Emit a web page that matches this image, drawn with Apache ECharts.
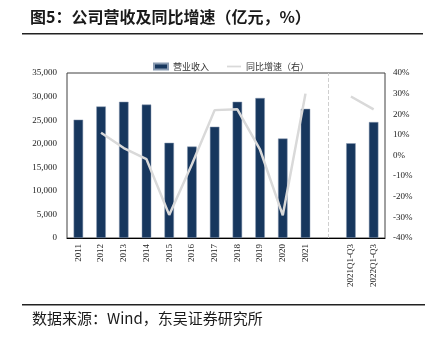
<!DOCTYPE html>
<html><head><meta charset="utf-8">
<script src="https://cdn.jsdelivr.net/npm/echarts@6/dist/echarts.min.js"></script>
<style>html,body{margin:0;padding:0;background:#fff}#c{width:430px;height:343px}</style>
</head><body><div id="c"></div>
<script>
var categories = ['2011','2012','2013','2014','2015','2016','2017','2018','2019','2020','2021','','2021Q1-Q3','2022Q1-Q3'];
var revenue = [25100, 27900, 28900, 28300, 20200, 19400, 23600, 28900, 29700, 21100, 27400, null, 20100, 24600];
var growth = [null, 11.0, 3.6, -1.8, -28.8, -4.2, 22.0, 22.4, 2.8, -29.0, 30.0, null, 28.6, 22.4];
var leftTicks = [0, 35000, 5000];
var rightTicks = [-40, 40, 10];

var chart = echarts.init(document.getElementById('c'), null, {renderer:'canvas'});
var serif = '"Liberation Serif","Times New Roman",serif';
var cjk = '"Noto Sans CJK SC",sans-serif';
chart.setOption({
  animation:false,
  backgroundColor:'#fff',
  title:{show:false},
  legend:{
    top:57, left:148, itemGap:18, itemWidth:14, itemHeight:6,
    textStyle:{fontFamily:cjk, fontSize:9, color:'#333'},
    data:[{name:'营业收入', icon:'rect'},{name:'同比增速（右）', icon:'path://M0,0L20,0L20,2.5L0,2.5Z'}]
  },
  grid:{left:67, right:45, top:73, bottom:105, show:true, borderColor:'#404040', borderWidth:1, containLabel:false},
  xAxis:{
    type:'category', data:categories,
    axisLine:{lineStyle:{color:'#000'}},
    axisTick:{show:false},
    axisLabel:{rotate:90, interval:0, fontFamily:serif, fontSize:9, color:'#222', margin:6}
  },
  yAxis:[
    {type:'value', min:leftTicks[0], max:leftTicks[1], interval:leftTicks[2],
     splitLine:{show:false}, axisLine:{show:false}, axisTick:{show:false},
     axisLabel:{fontFamily:serif, fontSize:9, color:'#222', margin:10,
       formatter:function(v){return v.toLocaleString('en-US');}}},
    {type:'value', min:rightTicks[0], max:rightTicks[1], interval:rightTicks[2],
     splitLine:{show:false}, axisLine:{show:false}, axisTick:{show:false},
     axisLabel:{fontFamily:serif, fontSize:9, color:'#222', margin:8, formatter:'{value}%'}}
  ],
  series:[
    {name:'营业收入', type:'bar', data:revenue, barWidth:9.5,
     itemStyle:{color:'#17375e', borderColor:'#8a9bb2', borderWidth:0.5},
     markLine:{silent:true, symbol:'none', label:{show:false},
       lineStyle:{color:'#cfcfcf', type:'dashed', width:1},
       data:[{xAxis:''}]}},
    {name:'同比增速（右）', type:'line', yAxisIndex:1, data:growth,
     symbol:'none', connectNulls:false,
     lineStyle:{color:'#d9d9d9', width:2.5}, itemStyle:{color:'#d9d9d9'}}
  ],
  graphic:[
    {type:'text', left:30, top:9, style:{text:'图5：公司营收及同比增速（亿元，%）', font:'bold 16px "Noto Sans CJK SC",sans-serif', fill:'#1a1a1a'}},
    {type:'rect', shape:{x:22, y:33, width:401, height:1.5}, style:{fill:'#222'}},
    {type:'rect', shape:{x:22, y:304, width:403, height:1.5}, style:{fill:'#222'}},
    {type:'text', left:32, top:311, style:{text:'数据来源：Wind，东吴证券研究所', font:'15px "Noto Sans CJK SC",sans-serif', fill:'#1a1a1a'}}
  ]
});
</script></body></html>
